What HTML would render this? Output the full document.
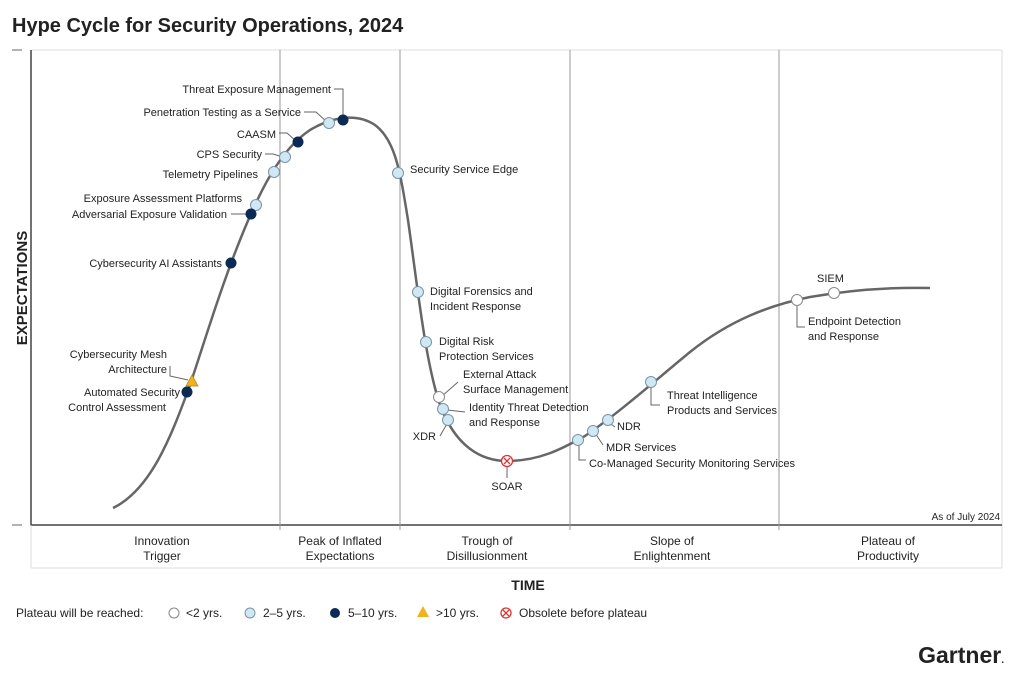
<!DOCTYPE html>
<html><head><meta charset="utf-8"><style>
body{margin:0;background:#fff;}
svg text{font-family:"Liberation Sans",sans-serif;fill:#222;}
</style></head><body>
<svg width="1024" height="675" viewBox="0 0 1024 675" xmlns="http://www.w3.org/2000/svg">
<text x="12" y="32" font-size="20" font-weight="bold" fill="#111">Hype Cycle for Security Operations, 2024</text>
<!-- plot frame -->
<line x1="31" y1="50" x2="1002" y2="50" stroke="#ddd"/>
<line x1="1002" y1="50" x2="1002" y2="568" stroke="#ddd"/>
<line x1="31" y1="50" x2="31" y2="526" stroke="#444" stroke-width="1.5"/>
<line x1="31" y1="525" x2="1002" y2="525" stroke="#444" stroke-width="1.5"/>
<line x1="31" y1="568" x2="1002" y2="568" stroke="#ddd"/>
<line x1="31" y1="525" x2="31" y2="568" stroke="#ddd"/>
<line x1="12" y1="50" x2="22" y2="50" stroke="#666"/>
<line x1="12" y1="525" x2="22" y2="525" stroke="#666"/>
<g stroke="#999" stroke-width="1">
<line x1="280" y1="50" x2="280" y2="530"/><line x1="400" y1="50" x2="400" y2="530"/>
<line x1="570" y1="50" x2="570" y2="530"/><line x1="779" y1="50" x2="779" y2="530"/>
</g>
<text x="1000" y="520" font-size="10" fill="#777" text-anchor="end">As of July 2024</text>
<g font-size="12" fill="#444" text-anchor="middle">
<text x="162" y="545">Innovation</text><text x="162" y="560">Trigger</text>
<text x="340" y="545">Peak of Inflated</text><text x="340" y="560">Expectations</text>
<text x="487" y="545">Trough of</text><text x="487" y="560">Disillusionment</text>
<text x="672" y="545">Slope of</text><text x="672" y="560">Enlightenment</text>
<text x="888" y="545">Plateau of</text><text x="888" y="560">Productivity</text>
</g>
<text x="528" y="590" font-size="14" font-weight="bold" text-anchor="middle" fill="#111">TIME</text>
<text transform="translate(27,288) rotate(-90)" font-size="15" font-weight="bold" text-anchor="middle" fill="#111">EXPECTATIONS</text>
<!-- curve -->
<path d="M113,508 C150,490 170,440 190,385 C205,340 220,290 240,240 C260,190 280,150 310,130 C330,118 355,112 375,125 C395,140 400,170 408,220 C418,290 425,360 440,405 C455,445 480,462 510,461 C540,460 560,450 585,436 C620,412 650,385 690,352 C730,320 770,305 810,297 C850,290 890,287 930,288" fill="none" stroke="#666" stroke-width="2.5"/>
<!-- leaders -->
<g stroke="#666" fill="none" stroke-width="1">
<path d="M334,89 H343 V118"/><path d="M304,112 H316 L327,122"/><path d="M279,133 H287 L296,141"/>
<path d="M265,154 H273 L283,157"/><path d="M231,214 H249"/><path d="M170,366 V376 L188,380"/>
<path d="M579,444 V460 H586"/><path d="M797,302 V327 H805"/><path d="M651,385 V405 H660"/>
<path d="M441,397 L458,382"/><path d="M447,410 L465,412"/><path d="M448,422 L440,436"/><path d="M507,463 V478"/><path d="M595,433 L603,445"/><path d="M608,422 L615,427"/>
</g>
<!-- labels -->
<g font-size="11" text-anchor="end">
<text x="331" y="93">Threat Exposure Management</text>
<text x="301" y="116">Penetration Testing as a Service</text>
<text x="276" y="138">CAASM</text>
<text x="262" y="158">CPS Security</text>
<text x="258" y="178">Telemetry Pipelines</text>
<text x="242" y="202">Exposure Assessment Platforms</text>
<text x="227" y="218">Adversarial Exposure Validation</text>
<text x="222" y="267">Cybersecurity AI Assistants</text>
<text x="167" y="358">Cybersecurity Mesh</text><text x="167" y="373">Architecture</text>
<text x="180" y="396">Automated Security</text><text x="166" y="411">Control Assessment</text>
<text x="436" y="440">XDR</text>
</g>
<g font-size="11">
<text x="410" y="173">Security Service Edge</text>
<text x="430" y="295">Digital Forensics and</text><text x="430" y="310">Incident Response</text>
<text x="439" y="345">Digital Risk</text><text x="439" y="360">Protection Services</text>
<text x="463" y="378">External Attack</text><text x="463" y="393">Surface Management</text>
<text x="469" y="411">Identity Threat Detection</text><text x="469" y="426">and Response</text>
<text x="507" y="490" text-anchor="middle">SOAR</text>
<text x="589" y="467">Co-Managed Security Monitoring Services</text>
<text x="606" y="451">MDR Services</text>
<text x="617" y="430">NDR</text>
<text x="667" y="399">Threat Intelligence</text><text x="667" y="414">Products and Services</text>
<text x="808" y="325">Endpoint Detection</text><text x="808" y="340">and Response</text>
<text x="817" y="282">SIEM</text>
</g>
<!-- markers -->
<g stroke="#7a93a8" stroke-width="1" fill="#cfe8f3">
<circle cx="329" cy="123" r="5.5"/><circle cx="285" cy="157" r="5.5"/><circle cx="274" cy="172" r="5.5"/>
<circle cx="256" cy="205" r="5.5"/><circle cx="398" cy="173" r="5.5"/><circle cx="418" cy="292" r="5.5"/>
<circle cx="426" cy="342" r="5.5"/><circle cx="443" cy="409" r="5.5"/><circle cx="448" cy="420" r="5.5"/>
<circle cx="578" cy="440" r="5.5"/><circle cx="593" cy="431" r="5.5"/><circle cx="608" cy="420" r="5.5"/>
<circle cx="651" cy="382" r="5.5"/>
</g>
<g stroke="#888" fill="#fff"><circle cx="439" cy="397" r="5.5"/><circle cx="797" cy="300" r="5.5"/><circle cx="834" cy="293" r="5.5"/></g>
<g fill="#0b2a55"><circle cx="343" cy="120" r="5.5"/><circle cx="298" cy="142" r="5.5"/><circle cx="251" cy="214" r="5.5"/><circle cx="231" cy="263" r="5.5"/><circle cx="187" cy="392" r="5.5"/></g>
<polygon points="192,375 198,386 186,386" fill="#f2b21b" stroke="#b08010" stroke-width="0.7"/>
<circle cx="507" cy="461" r="5.5" fill="#fff" stroke="#d33" stroke-width="1.3"/>
<path d="M504,458 L510,464 M510,458 L504,464" stroke="#d33" stroke-width="1.3"/>
<!-- legend -->
<g font-size="12" fill="#222">
<text x="16" y="617">Plateau will be reached:</text>
<circle cx="174" cy="613" r="5" fill="#fff" stroke="#888"/><text x="186" y="617">&lt;2 yrs.</text>
<circle cx="250" cy="613" r="5" fill="#cfe8f3" stroke="#7a93a8"/><text x="263" y="617">2–5 yrs.</text>
<circle cx="335" cy="613" r="5" fill="#0b2a55"/><text x="348" y="617">5–10 yrs.</text>
<polygon points="423,606 429,617 417,617" fill="#f2b21b"/><text x="436" y="617">&gt;10 yrs.</text>
<circle cx="506" cy="613" r="5" fill="#fff" stroke="#d33" stroke-width="1.3"/><path d="M503,610 L509,616 M509,610 L503,616" stroke="#d33" stroke-width="1.3"/>
<text x="519" y="617">Obsolete before plateau</text>
</g>
<text x="1004" y="663" font-size="23" font-weight="bold" fill="#0b2a55" text-anchor="end">Gartner<tspan font-size="10">.</tspan></text>
</svg>
</body></html>
